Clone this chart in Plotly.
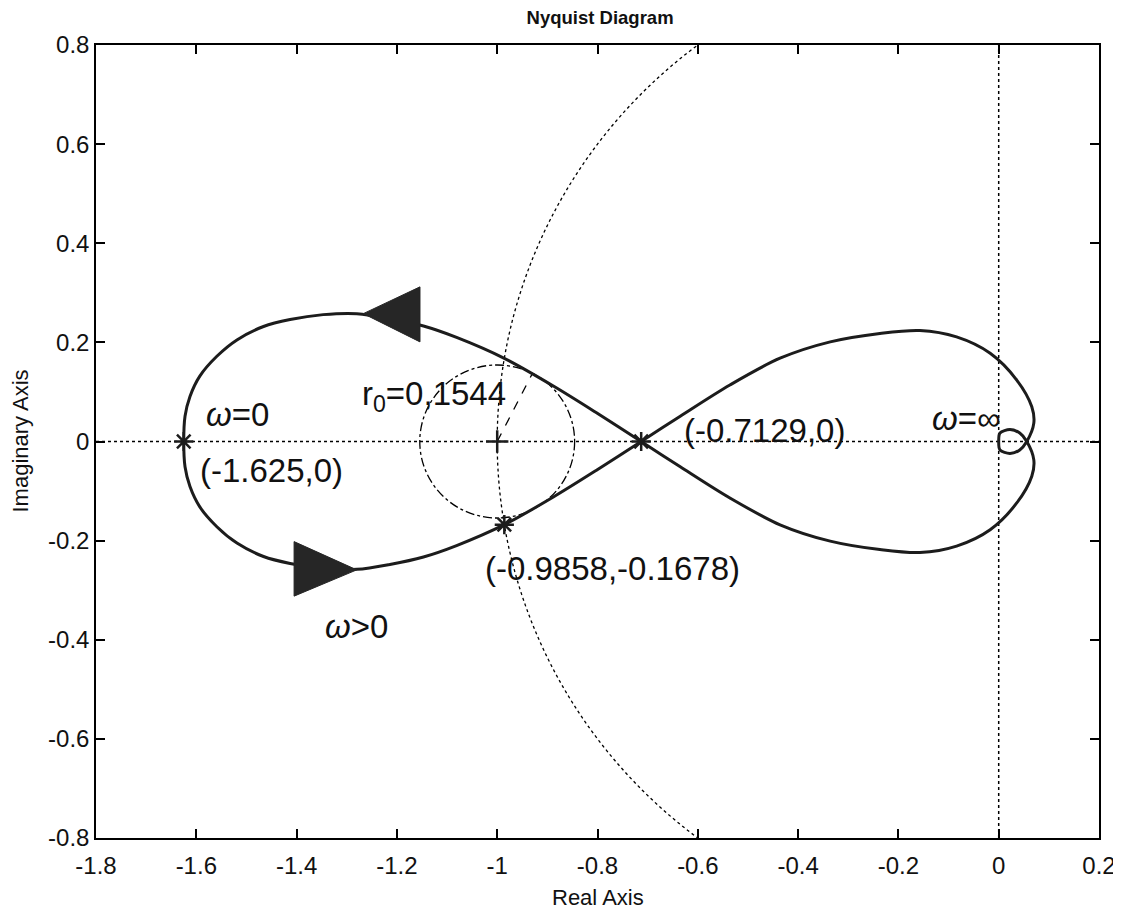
import plotly.graph_objects as go

# ---------------- data ----------------
# Nyquist locus, positive frequencies (omega: 0 -> inf)
re_pos = [-1.625, -1.6225, -1.6126, -1.593, -1.559, -1.519, -1.466, -1.413, -1.347, -1.280,
          -1.214, -1.147, -1.081, -0.9858, -0.888, -0.802, -0.7129, -0.635, -0.536, -0.436,
          -0.336, -0.237, -0.157, -0.084, -0.017, 0.036, 0.066, 0.070, 0.056, 0.042,
          0.0225, 0.0026, 0.0]
im_pos = [0.0, -0.051, -0.091, -0.132, -0.172, -0.205, -0.232, -0.246, -0.256, -0.258,
          -0.248, -0.233, -0.210, -0.1678, -0.112, -0.058, 0.0, 0.051, 0.114, 0.168,
          0.201, 0.218, 0.224, 0.211, 0.178, 0.124, 0.070, 0.037, 0.0, -0.017,
          -0.024, -0.017, 0.0]
# Nyquist locus, negative frequencies (omega: 0 -> -inf), mirror image
re_neg = [-1.625, -1.6225, -1.6126, -1.593, -1.559, -1.519, -1.466, -1.413, -1.347, -1.280,
          -1.214, -1.147, -1.081, -0.9858, -0.888, -0.802, -0.7129, -0.635, -0.536, -0.436,
          -0.336, -0.237, -0.157, -0.084, -0.017, 0.036, 0.066, 0.070, 0.056, 0.042,
          0.0225, 0.0026, 0.0]
im_neg = [0.0, 0.051, 0.091, 0.132, 0.172, 0.205, 0.232, 0.246, 0.256, 0.258,
          0.248, 0.233, 0.210, 0.1678, 0.112, 0.058, 0.0, -0.051, -0.114, -0.168,
          -0.201, -0.218, -0.224, -0.211, -0.178, -0.124, -0.070, -0.037, 0.0, 0.017,
          0.024, 0.017, 0.0]

# direction arrows (filled triangles)
arrow_low_x = [-1.405, -1.405, -1.280, -1.405]
arrow_low_y = [-0.202, -0.312, -0.259, -0.202]
arrow_up_x = [-1.154, -1.154, -1.267, -1.154]
arrow_up_y = [0.312, 0.201, 0.258, 0.312]

# marked points
star_x = [-1.625, -0.7129, -0.9858]
star_y = [0.0, 0.0, -0.1678]
center_x = [-1.0]
center_y = [0.0]
r0 = 0.1544
radius_end = [-0.931, 0.135]

# annotations
labels = ["<i>ω</i>=0", "r<sub>0</sub>=0,1544", "(-0.7129,0)", "(-1.625,0)",
          "(-0.9858,-0.1678)", "<i>ω</i>>0", "<i>ω</i>=∞"]
label_x = [-1.517, -1.126, -0.468, -1.451, -0.771, -1.280, -0.065]
label_y = [0.055, 0.092, 0.023, -0.058, -0.257, -0.374, 0.047]

# axes
x_range = [-1.8, 0.2]
y_range = [-0.8, 0.8]
x_ticks = [-1.8, -1.6, -1.4, -1.2, -1.0, -0.8, -0.6, -0.4, -0.2, 0.0, 0.2]
x_ticktext = ["-1.8", "-1.6", "-1.4", "-1.2", "-1", "-0.8", "-0.6", "-0.4", "-0.2", "0", "0.2"]
y_ticks = [-0.8, -0.6, -0.4, -0.2, 0.0, 0.2, 0.4, 0.6, 0.8]
y_ticktext = ["-0.8", "-0.6", "-0.4", "-0.2", "0", "0.2", "0.4", "0.6", "0.8"]

FONT = "Arial, Liberation Sans, sans-serif"
INK = "#1c1c1c"

fig = go.Figure()

# locus: omega from -inf to 0 then 0 to +inf
path_x = re_neg[::-1] + re_pos[1:]
path_y = im_neg[::-1] + im_pos[1:]
fig.add_trace(go.Scatter(x=path_x, y=path_y, mode="lines",
                         line=dict(color=INK, width=3, shape="spline", smoothing=0.9),
                         hoverinfo="skip", showlegend=False))

for ax_, ay_ in [(arrow_low_x, arrow_low_y), (arrow_up_x, arrow_up_y)]:
    fig.add_trace(go.Scatter(x=ax_, y=ay_, mode="lines", fill="toself",
                             fillcolor="#262626", line=dict(color="#262626", width=1),
                             hoverinfo="skip", showlegend=False))

fig.add_trace(go.Scatter(x=star_x, y=star_y, mode="markers",
                         marker=dict(symbol="asterisk-open", size=16, color=INK,
                                     line=dict(color=INK, width=2.5)),
                         hoverinfo="skip", showlegend=False))
fig.add_trace(go.Scatter(x=center_x, y=center_y, mode="markers",
                         marker=dict(symbol="cross-thin-open", size=16, color=INK,
                                     line=dict(color=INK, width=2.5)),
                         hoverinfo="skip", showlegend=False))

shapes = [
    # real and imaginary axis lines
    dict(type="line", xref="x", yref="y", x0=x_range[0], x1=x_range[1], y0=0, y1=0,
         line=dict(color="black", width=1.5, dash="dot"), layer="below"),
    dict(type="line", xref="x", yref="y", x0=0, x1=0, y0=y_range[0], y1=y_range[1],
         line=dict(color="black", width=1.5, dash="dot"), layer="below"),
    # unit circle
    dict(type="circle", xref="x", yref="y", x0=-1, x1=1, y0=-1, y1=1,
         line=dict(color="black", width=1.3, dash="dot"), layer="below"),
    # circle of radius r0 around (-1, 0)
    dict(type="circle", xref="x", yref="y", x0=center_x[0] - r0, x1=center_x[0] + r0,
         y0=center_y[0] - r0, y1=center_y[0] + r0,
         line=dict(color="black", width=1.3, dash="dashdot"), layer="below"),
    dict(type="line", xref="x", yref="y", x0=center_x[0], y0=center_y[0],
         x1=radius_end[0], y1=radius_end[1],
         line=dict(color="black", width=1.3, dash="dash"), layer="below"),
]

annotations = []
for t, lx, ly in zip(labels, label_x, label_y):
    annotations.append(dict(x=lx, y=ly, xref="x", yref="y", text=t, showarrow=False,
                            xanchor="center", yanchor="middle",
                            font=dict(family=FONT, size=33, color="#111")))
annotations.append(dict(x=0.5, y=-60 / 793, xref="paper", yref="paper", text="Real Axis",
                        showarrow=False, xanchor="center", yanchor="middle",
                        font=dict(family=FONT, size=22, color="#111")))
annotations.append(dict(x=-76 / 1003, y=0.5, xref="paper", yref="paper", text="Imaginary Axis",
                        showarrow=False, xanchor="center", yanchor="middle", textangle=-90,
                        font=dict(family=FONT, size=22, color="#111")))

axis_common = dict(showgrid=False, zeroline=False, showline=True, linecolor="black",
                   linewidth=1.5, mirror="ticks", ticks="inside", ticklen=9, tickwidth=1.5,
                   tickcolor="black", automargin=False,
                   tickfont=dict(family=FONT, size=24, color="#111"))

# the page has an 8px body margin, so the figure is sized to fit the window
fig.update_layout(
    width=1113, height=906,
    margin=dict(l=88, r=22, t=37, b=76),
    paper_bgcolor="white", plot_bgcolor="white",
    title=dict(text="<b>Nyquist Diagram</b>", x=0.532, xanchor="center",
               y=1 - 10 / 906, yanchor="middle", yref="container",
               font=dict(family=FONT, size=18.5, color="#111")),
    xaxis=dict(range=x_range, tickvals=x_ticks, ticktext=x_ticktext,
               ticklabelstandoff=5, **axis_common),
    yaxis=dict(range=y_range, tickvals=y_ticks, ticktext=y_ticktext, **axis_common),
    shapes=shapes, annotations=annotations, showlegend=False,
)

fig.write_html("out.html")
